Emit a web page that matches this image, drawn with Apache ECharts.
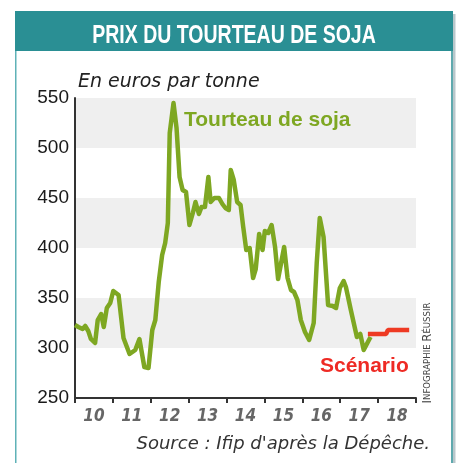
<!DOCTYPE html>
<html>
<head>
<meta charset="utf-8">
<script src="https://cdn.jsdelivr.net/npm/echarts@6/dist/echarts.min.js"></script>
<style>
html, body { margin: 0; padding: 0; background: #fff; }
#main { width: 457px; height: 463px; }
</style>
</head>
<body>
<div id="main"></div>
<script>
// annees (decimales) et prix du tourteau
var greenYears = [2010.00, 2010.09, 2010.20, 2010.27, 2010.35, 2010.42, 2010.53, 2010.60, 2010.69, 2010.76,
    2010.84, 2010.93, 2011.01, 2011.15, 2011.28, 2011.44, 2011.59, 2011.70, 2011.83, 2011.94,
    2012.04, 2012.12, 2012.21, 2012.30, 2012.38, 2012.45, 2012.50, 2012.60, 2012.68, 2012.76,
    2012.84, 2012.93, 2013.02, 2013.11, 2013.18, 2013.27, 2013.34, 2013.43, 2013.52, 2013.58,
    2013.68, 2013.80, 2013.89, 2013.97, 2014.06, 2014.11, 2014.19, 2014.28, 2014.37, 2014.44,
    2014.52, 2014.61, 2014.70, 2014.77, 2014.86, 2014.95, 2015.01, 2015.10, 2015.19, 2015.28,
    2015.36, 2015.52, 2015.61, 2015.70, 2015.78, 2015.87, 2015.96, 2016.07, 2016.18, 2016.30,
    2016.38, 2016.46, 2016.56, 2016.68, 2016.80, 2016.89, 2016.99, 2017.09, 2017.15, 2017.28,
    2017.44, 2017.53, 2017.62, 2017.73, 2017.80];
var greenValues = [323, 321, 319, 322, 317, 309, 305, 328, 334, 321,
    340, 345, 357, 353, 310, 294, 298, 309, 281, 280,
    318, 328, 366, 393, 405, 425, 515, 545, 520, 471,
    458, 456, 423, 435, 446, 434, 441, 441, 471, 446,
    450, 450, 444, 440, 438, 478, 468, 446, 443, 421,
    398, 400, 370, 379, 414, 398, 417, 415, 423, 401,
    369, 401, 370, 358, 356, 348, 328, 316, 308, 325,
    385, 430, 411, 343, 342, 340, 360, 367, 361, 338,
    311, 314, 298, 306, 311];
// scenario
var scenarioYears = [2017.73, 2018.21, 2018.26, 2018.82];
var scenarioValues = [314, 314, 318, 318];
var yearLabels = ['10', '11', '12', '13', '14', '15', '16', '17', '18'];

function toPairs(xs, ys) {
    var out = [];
    for (var i = 0; i < xs.length; i++) {
        out.push([xs[i], ys[i]]);
    }
    return out;
}

var narrow = '"Liberation Sans Narrow", "DejaVu Sans Condensed", sans-serif';

var myChart = echarts.init(document.getElementById('main'));
var option = {
    backgroundColor: '#fff',
    animation: false,
    grid: {
        left: 75,
        right: 41,
        top: 98,
        bottom: 65,
        containLabel: false,
        outerBoundsMode: 'none'
    },
    xAxis: [{
        type: 'value',
        min: 2010,
        max: 2019,
        show: false
    }, {
        type: 'category',
        position: 'bottom',
        data: yearLabels,
        boundaryGap: true,
        axisLine: {lineStyle: {color: '#333', width: 2}},
        axisTick: {show: true, length: 5, lineStyle: {color: '#333', width: 2}},
        axisLabel: {
            margin: 10,
            color: '#666',
            fontFamily: narrow,
            fontStyle: 'italic',
            fontWeight: 'bold',
            fontSize: 17
        },
        splitLine: {show: false}
    }],
    yAxis: {
        type: 'value',
        min: 250,
        max: 550,
        interval: 50,
        axisLine: {show: true, lineStyle: {color: '#333', width: 2}},
        axisTick: {show: false},
        axisLabel: {
            margin: 6,
            color: '#1a1a1a',
            fontFamily: '"Liberation Sans", Arial, sans-serif',
            fontSize: 19
        },
        splitLine: {show: false},
        splitArea: {show: true, areaStyle: {color: ['rgba(0,0,0,0)', '#efefef']}}
    },
    series: [{
        name: 'Tourteau de soja',
        type: 'line',
        xAxisIndex: 0,
        showSymbol: false,
        symbol: 'none',
        lineStyle: {color: '#7ea722', width: 4.5, join: 'round'},
        data: toPairs(greenYears, greenValues),
        z: 3
    }, {
        name: 'Scénario',
        type: 'line',
        xAxisIndex: 0,
        showSymbol: false,
        symbol: 'none',
        lineStyle: {color: '#ee3a23', width: 4.5},
        data: toPairs(scenarioYears, scenarioValues),
        z: 4
    }],
    graphic: [
        // cadre
        {type: 'rect', z: 100, shape: {x: 15, y: 11, width: 1.5, height: 460}, style: {fill: '#5fb2b7'}, silent: true},
        {type: 'rect', z: 100, shape: {x: 453, y: 14, width: 2.5, height: 460}, style: {fill: '#b9c7cb'}, silent: true},
        {type: 'rect', z: 100, shape: {x: 451, y: 11, width: 2, height: 460}, style: {fill: '#5fa9ae'}, silent: true},
        {type: 'rect', z: 100, shape: {x: 15, y: 11, width: 438, height: 40}, style: {fill: '#2a8f94'}, silent: true},
        {
            type: 'text', z: 101, x: 234, y: 36, scaleX: 0.75, silent: true,
            style: {
                text: 'PRIX DU TOURTEAU DE SOJA', fill: '#fff',
                font: 'bold 26px "Liberation Sans", Arial, sans-serif',
                textAlign: 'center', textVerticalAlign: 'middle'
            }
        },
        {
            type: 'text', z: 101, x: 78, y: 82, silent: true,
            style: {
                text: 'En euros par tonne', fill: '#222',
                font: 'italic 19px "DejaVu Sans", sans-serif',
                textAlign: 'left', textVerticalAlign: 'middle'
            }
        },
        {
            type: 'text', z: 101, x: 184, y: 120, silent: true,
            style: {
                text: 'Tourteau de soja', fill: '#7ea722',
                font: 'bold 21px "Liberation Sans", Arial, sans-serif',
                textAlign: 'left', textVerticalAlign: 'middle'
            }
        },
        {
            type: 'text', z: 101, x: 320, y: 366, silent: true,
            style: {
                text: 'Scénario', fill: '#ee2a24',
                font: 'bold 21px "Liberation Sans", Arial, sans-serif',
                textAlign: 'left', textVerticalAlign: 'middle'
            }
        },
        {
            type: 'text', z: 101, x: 430, y: 444, silent: true,
            style: {
                text: "Source : Ifip d'après la Dépêche.", fill: '#333',
                font: 'italic 18px "DejaVu Sans", sans-serif',
                textAlign: 'right', textVerticalAlign: 'middle'
            }
        },
        {
            type: 'text', z: 101, x: 428, y: 353, rotation: Math.PI / 2, silent: true,
            style: {
                text: '{b|I}{s|NFOGRAPHIE }{b|R}{s|ÉUSSIR}',
                fill: '#444',
                textAlign: 'center', textVerticalAlign: 'middle',
                rich: {
                    b: {fontSize: 13, fontFamily: narrow, fill: '#444'},
                    s: {fontSize: 9.5, fontFamily: narrow, fill: '#444'}
                }
            }
        }
    ]
};
myChart.setOption(option);
</script>
</body>
</html>
